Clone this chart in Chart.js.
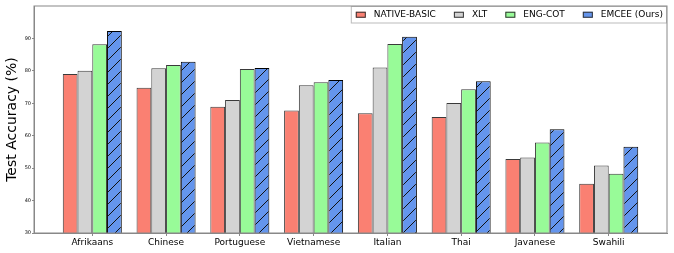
<!DOCTYPE html>
<html>
<head>
<meta charset="utf-8">
<script src="https://cdn.jsdelivr.net/npm/chart.js@4/dist/chart.umd.min.js"></script>
<style>
  body { margin: 0; background: #fff; }
  #chart { display: block; }
</style>
</head>
<body>
<canvas id="chart" width="674" height="253"></canvas>
<script>
// values
const languages = ['Afrikaans', 'Chinese', 'Portuguese', 'Vietnamese', 'Italian', 'Thai', 'Javanese', 'Swahili'];
const nativeBasic = [79.0, 74.8, 68.9, 67.8, 66.9, 65.8, 52.8, 45.2];
const xlt = [80.0, 80.8, 71.0, 75.6, 81.0, 70.1, 53.3, 50.8];
const engCot = [88.2, 81.8, 80.6, 76.5, 88.3, 74.3, 57.9, 48.3];
const emcee = [92.3, 82.8, 80.9, 77.2, 90.5, 76.8, 62.0, 56.6];
const yTicks = [30, 40, 50, 60, 70, 80, 90];

const FONT = 'DejaVu Sans';
Chart.defaults.color = '#000';
Chart.defaults.font.family = FONT;

// "//" hatch for the blue bars
function makeHatch(fill){
  const size = 12;
  const c = document.createElement('canvas');
  c.width = size; c.height = size;
  const g = c.getContext('2d');
  g.fillStyle = fill;
  g.fillRect(0, 0, size, size);
  g.strokeStyle = '#111';
  g.lineWidth = 1;
  g.beginPath();
  g.moveTo(-1, size + 1); g.lineTo(size + 1, -1);
  g.moveTo(-2, 2); g.lineTo(2, -2);
  g.moveTo(size - 2, size + 2); g.lineTo(size + 2, size - 2);
  g.stroke();
  return g.createPattern(c, 'repeat');
}

const toPoints = (arr) => arr.map((v, i) => ({x: i, y: v}));

const series = [
  {label: 'NATIVE-BASIC', values: nativeBasic, color: '#FA8072', edge: '#3a3a3a'},
  {label: 'XLT', values: xlt, color: '#D3D3D3', edge: '#3a3a3a'},
  {label: 'ENG-COT', values: engCot, color: '#98FB98', edge: '#3a3a3a'},
  {label: 'EMCEE (Ours)', values: emcee, color: '#6495ED', edge: '#000', hatch: true}
];

// legend drawn inside the plot, upper right corner
const innerLegend = {
  id: 'innerLegend',
  afterDraw(chart){
    const ctx = chart.ctx;
    const area = chart.chartArea;
    ctx.save();
    ctx.font = '9px "' + FONT + '"';
    const boxW = 10, boxH = 6, gap = 8, spacing = 18, padL = 5, padR = 4, h = 16.5;
    const widths = series.map(s => ctx.measureText(s.label).width);
    let total = padL + padR;
    widths.forEach((w, i) => { total += boxW + gap + w + (i < widths.length - 1 ? spacing : 0); });
    const left = area.right - total;
    const top = area.top;
    ctx.fillStyle = '#fff';
    ctx.fillRect(left, top, total, h);
    ctx.strokeStyle = '#bbb';
    ctx.lineWidth = 1;
    ctx.strokeRect(left + 0.5, top + 0.5, total - 1, h);
    let x = left + padL;
    const cy = top + h / 2 + 0.5;
    series.forEach((s, i) => {
      ctx.fillStyle = s.color;
      ctx.fillRect(x, cy - boxH / 2, boxW, boxH);
      ctx.strokeStyle = '#333';
      ctx.strokeRect(x + 0.5, cy - boxH / 2 + 0.5, boxW - 1, boxH - 1);
      ctx.fillStyle = '#000';
      ctx.textBaseline = 'middle';
      ctx.textAlign = 'left';
      ctx.fillText(s.label, x + boxW + gap, cy);
      x += boxW + gap + widths[i] + spacing;
    });
    // axes frame
    ctx.strokeStyle = '#888';
    ctx.strokeRect(area.left, area.top, area.right - area.left, area.bottom - area.top);
    ctx.restore();
  }
};

new Chart(document.getElementById('chart'), {
  type: 'bar',
  data: {
    datasets: series.map(s => ({
      label: s.label,
      data: toPoints(s.values),
      backgroundColor: s.hatch ? makeHatch(s.color) : s.color,
      borderColor: s.edge,
      borderWidth: 1,
      borderSkipped: false,
      categoryPercentage: 0.8,
      barPercentage: 1.0
    }))
  },
  options: {
    responsive: false,
    animation: false,
    layout: {padding: {top: 6, right: 7, left: 0, bottom: 0}},
    plugins: {
      legend: {display: false},
      tooltip: {enabled: false}
    },
    scales: {
      x: {
        type: 'linear',
        offset: false,
        min: -0.79,
        max: 7.79,
        afterBuildTicks: (axis) => { axis.ticks = languages.map((_, i) => ({value: i})); },
        afterFit: (scale) => { scale.height = 20; },
        grid: {offset: false, drawOnChartArea: false, tickLength: 3, color: '#888'},
        border: {color: '#888'},
        ticks: {
          autoSkip: false,
          maxRotation: 0,
          padding: 1,
          font: {size: 9},
          callback: (v) => languages[v]
        }
      },
      y: {
        min: 30,
        max: 100,
        afterBuildTicks: (axis) => { axis.ticks = yTicks.map(v => ({value: v})); },
        afterFit: (scale) => { scale.width = 34; },
        grid: {drawOnChartArea: false, tickLength: 2, color: '#888'},
        border: {color: '#888'},
        ticks: {padding: 1, font: {size: 5}},
        title: {
          display: true,
          text: 'Test Accuracy (%)',
          font: {size: 14},
          padding: {top: 4, bottom: 0}
        }
      }
    }
  },
  plugins: [innerLegend]
});
</script>
</body>
</html>
